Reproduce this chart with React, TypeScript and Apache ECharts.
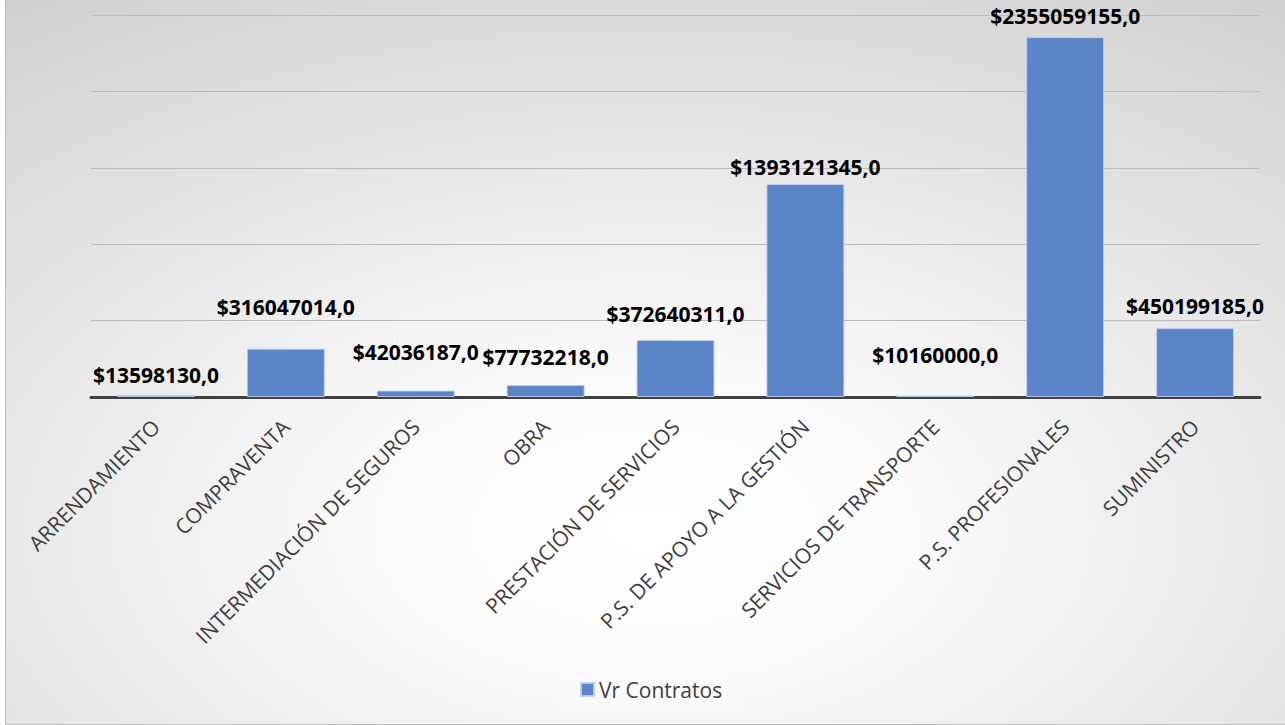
import React, { useEffect, useRef } from "react";
import * as echarts from "echarts";

const categories = [
  "ARRENDAMIENTO",
  "COMPRAVENTA",
  "INTERMEDIACIÓN DE SEGUROS",
  "OBRA",
  "PRESTACIÓN DE SERVICIOS",
  "P.S. DE APOYO A LA GESTIÓN",
  "SERVICIOS DE TRANSPORTE",
  "P.S. PROFESIONALES",
  "SUMINISTRO",
];
const values = [
  13598130, 316047014, 42036187, 77732218, 372640311, 1393121345, 10160000,
  2355059155, 450199185,
];
const seriesName = "Vr Contratos";
const yMin = 0;
const yMax = 2500000000;
const yInterval = 500000000;
// vertical distance (px) of each value label's centre above its bar top, as placed in the original
const labelLift = [20, 42, 39, 28, 26, 17, 40, 21, 22];

const FONT = "'Open Sans', 'Noto Sans', sans-serif";

export default function App() {
  const ref = useRef<HTMLDivElement>(null);
  useEffect(() => {
    if (!ref.current) return;
    const chart = echarts.init(ref.current, undefined, { renderer: "svg" });
    chart.setOption({
      animation: false,
      backgroundColor: {
        type: "radial",
        x: 0.5,
        y: 0.73,
        r: 1.0,
        colorStops: [
          { offset: 0, color: "#ffffff" },
          { offset: 0.2, color: "#fbfbfb" },
          { offset: 1, color: "#c9c9c9" },
        ],
      },
      textStyle: { fontFamily: FONT },
      grid: { left: 85, right: 25, top: 15, bottom: 327, containLabel: false },
      legend: {
        data: [seriesName],
        left: 552,
        top: 666,
        padding: [13, 22],
        backgroundColor: "rgba(250,250,250,0.45)",
        icon: "rect",
        itemWidth: 13,
        itemHeight: 13,
        itemGap: 7,
        textStyle: { fontFamily: FONT, fontSize: 21, color: "#404040" },
      },
      xAxis: {
        type: "category",
        data: categories,
        axisLine: { show: true, lineStyle: { color: "#404040", width: 3 } },
        axisTick: { show: false },
        axisLabel: {
          rotate: 45,
          interval: 0,
          margin: 26,
          fontFamily: FONT,
          fontSize: 21,
          color: "#404040",
        },
      },
      yAxis: {
        type: "value",
        min: yMin,
        max: yMax,
        interval: yInterval,
        axisLine: { show: false },
        axisTick: { show: false },
        axisLabel: { show: false },
        splitLine: { lineStyle: { color: "#bcbcbc", width: 1 } },
      },
      series: [
        {
          name: seriesName,
          type: "bar",
          barCategoryGap: "40%",
          itemStyle: {
            color: "#5b84c9",
            borderColor: "rgba(190,205,235,0.9)",
            borderWidth: 1,
          },
          label: {
            show: true,
            position: "top",
            verticalAlign: "middle",
            fontFamily: FONT,
            fontSize: 21,
            fontWeight: "bold",
            color: "#000000",
            formatter: (p: any) => "$" + p.value + ",0",
          },
          data: values.map((v, i) => ({
            value: v,
            label: { distance: labelLift[i] },
          })),
        },
      ],
    });
    return () => chart.dispose();
  }, []);
  return (
    <div
      style={{
        position: "absolute",
        left: 5,
        top: 0,
        width: 1280,
        height: 725,
        boxSizing: "border-box",
        borderLeft: "1px solid #bdbdbd",
        borderBottom: "1px solid #bdbdbd",
        overflow: "hidden",
      }}
    >
      <div ref={ref} style={{ width: 1279, height: 724 }} />
    </div>
  );
}
